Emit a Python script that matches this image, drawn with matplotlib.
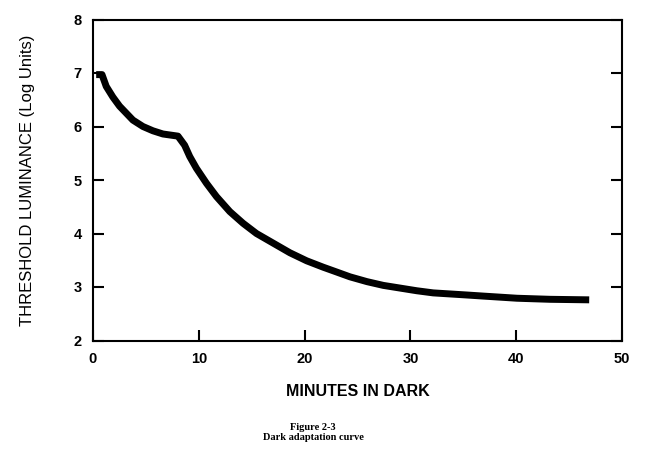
import matplotlib
matplotlib.use("Agg")
import matplotlib.pyplot as plt

# dark adaptation curve
minutes = [0.3, 0.85, 1.25, 1.88, 2.51, 3.14, 3.77, 4.72, 5.66, 6.61, 8.03,
           8.66, 9.14, 9.77, 10.72, 11.67, 12.93, 14.19, 15.45, 17.03, 18.61,
           20.19, 21.76, 23.03, 24.29, 25.90, 27.44, 29.02, 30.6, 32.15,
           33.76, 35.37, 36.9, 38.49, 40.07, 41.62, 43.2, 46.9]
threshold = [6.97, 6.97, 6.75, 6.55, 6.38, 6.25, 6.12, 6.00, 5.92, 5.86, 5.82,
             5.65, 5.44, 5.22, 4.94, 4.69, 4.41, 4.19, 4.00, 3.82, 3.64,
             3.49, 3.37, 3.28, 3.19, 3.10, 3.03, 2.98, 2.93, 2.89,
             2.87, 2.85, 2.83, 2.81, 2.79, 2.78, 2.77, 2.76]

xticks = [0, 10, 20, 30, 40, 50]
yticks = [2, 3, 4, 5, 6, 7, 8]

plt.rcParams['font.family'] = ['Liberation Sans', 'DejaVu Sans']

fig = plt.figure(figsize=(6.49, 4.55), dpi=100)
ax = fig.add_axes([93 / 649, 1 - 340.5 / 455, 529 / 649, 321 / 455])

ax.plot(minutes, threshold, color='black', lw=5, solid_capstyle='butt',
        solid_joinstyle='round')

ax.set_xlim(0, 50)
ax.set_ylim(2, 8)
ax.set_xticks(xticks)
ax.set_yticks(yticks)
for s in ax.spines.values():
    s.set_linewidth(1.5)

ax.tick_params(axis='both', direction='in', length=8, width=1.5,
               labelsize=10.5, pad=8)
ax.tick_params(axis='y', right=True)
for lab in ax.get_xticklabels() + ax.get_yticklabels():
    lab.set_fontweight('bold')

ax.set_xlabel('MINUTES IN DARK', fontsize=11.5, fontweight='bold', labelpad=13)
ax.set_ylabel('THRESHOLD LUMINANCE (Log Units)', fontsize=12, labelpad=28)

fig.text(313 / 649, 1 - 427 / 455, 'Figure 2-3', ha='center', va='center',
         fontsize=7.5, fontweight='bold', family='Liberation Serif')
fig.text(313 / 649, 1 - 438 / 455, 'Dark adaptation curve', ha='center',
         va='center', fontsize=7.5, fontweight='bold', family='Liberation Serif')

fig.savefig('out.png', dpi=100)
